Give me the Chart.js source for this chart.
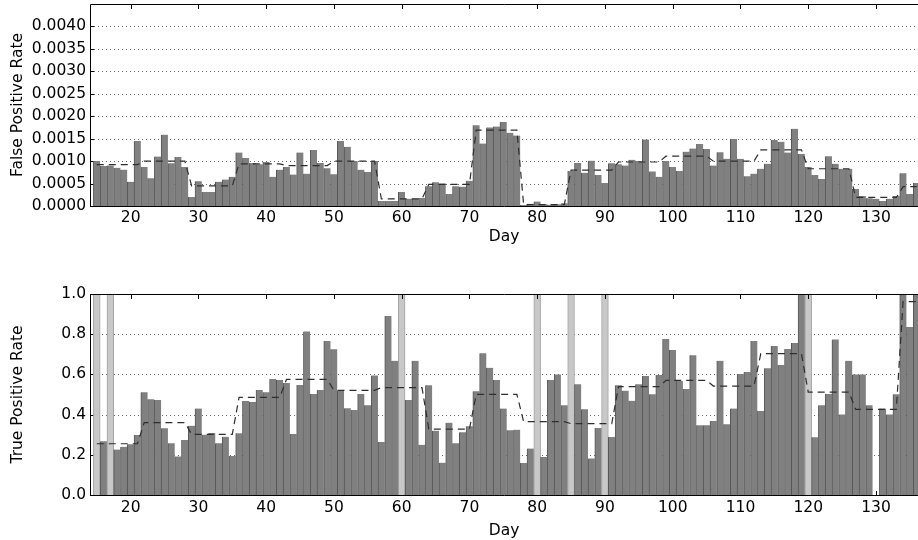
<!DOCTYPE html>
<html>
<head>
<meta charset="utf-8">
<script src="https://cdn.jsdelivr.net/npm/chart.js@4"></script>
<style>
  html, body { margin: 0; padding: 0; background: #fff; overflow: hidden; }
  #wrap { position: relative; width: 918px; height: 540px; }
  #fpr { position: absolute; left: 0; top: 0; }
  #tpr { position: absolute; left: 0; top: 260px; }
</style>
</head>
<body>
<div id="wrap">
  <canvas id="fpr" width="918" height="246"></canvas>
  <canvas id="tpr" width="918" height="280"></canvas>
</div>
<script>
// Days covered by the daily series
const firstDay = 15;
const lastDay = 136;

// Daily false positive rate, days 15..136
const fprDaily = [
  0.00100, 0.00089, 0.00090, 0.00085, 0.00081, 0.00054, 0.00145, // 15-21
  0.00087, 0.00062, 0.00110, 0.00159, 0.00095, 0.00109, 0.00087, // 22-28
  0.00020, 0.00055, 0.00031, 0.00031, 0.00054, 0.00059, 0.00065, // 29-35
  0.00119, 0.00107, 0.00096, 0.00093, 0.00098, 0.00065, 0.00081, // 36-42
  0.00087, 0.00070, 0.00119, 0.00072, 0.00125, 0.00096, 0.00084, // 43-49
  0.00071, 0.00145, 0.00132, 0.00100, 0.00081, 0.00076, 0.00100, // 50-56
  0.00011, 0.00011, 0.00011, 0.00031, 0.00016, 0.00016, 0.00018, // 57-63
  0.00044, 0.00053, 0.00050, 0.00027, 0.00044, 0.00043, 0.00056, // 64-70
  0.00180, 0.00139, 0.00175, 0.00177, 0.00187, 0.00163, 0.00157, // 71-77
  0.00002, 0.00005, 0.00010, 0.00004, 0.00003, 0.00004, 0.00006, // 78-84
  0.00078, 0.00096, 0.00074, 0.00101, 0.00069, 0.00051, 0.00095, // 85-91
  0.00093, 0.00090, 0.00103, 0.00100, 0.00148, 0.00077, 0.00065, // 92-98
  0.00100, 0.00087, 0.00078, 0.00121, 0.00128, 0.00138, 0.00127, // 99-105
  0.00090, 0.00120, 0.00105, 0.00149, 0.00105, 0.00066, 0.00072, // 106-112
  0.00083, 0.00094, 0.00147, 0.00143, 0.00119, 0.00172, 0.00116, // 113-119
  0.00087, 0.00069, 0.00060, 0.00111, 0.00094, 0.00083, 0.00083, // 120-126
  0.00038, 0.00022, 0.00017, 0.00016, 0.00011, 0.00016, 0.00022, // 127-133
  0.00073, 0.00027, 0.00051                                      // 134-136
];

// Weekly mean false positive rate (weeks start on day 15)
const fprWeekly = [
  0.00092, 0.00100, 0.00045, 0.00094, 0.00090, 0.00100,
  0.00016, 0.00048, 0.00169, 0.00003, 0.00080, 0.00098,
  0.00111, 0.00100, 0.00125, 0.00083, 0.00019, 0.00043
];

// Daily true positive rate, days 15..136 (null = no positives that day)
const tprDaily = [
  null,  0.267, null,  0.226, 0.240, 0.252, 0.299, // 15-21
  0.511, 0.476, 0.473, 0.332, 0.257, 0.192, 0.274, // 22-28
  0.345, 0.430, 0.300, 0.308, 0.257, 0.290, 0.194, // 29-35
  0.307, 0.468, 0.463, 0.522, 0.511, 0.577, 0.572, // 36-42
  0.557, 0.303, 0.547, 0.814, 0.502, 0.522, 0.766, // 43-49
  0.725, 0.519, 0.431, 0.423, 0.502, 0.446, 0.595, // 50-56
  0.264, 0.891, 0.668, null,  0.473, 0.668, 0.250, // 57-63
  0.546, 0.320, 0.161, 0.360, 0.257, 0.312, 0.342, // 64-70
  0.516, 0.705, 0.633, 0.572, 0.430, 0.322, 0.325, // 71-77
  0.159, 0.231, null,  0.189, 0.572, 0.600, 0.446, // 78-84
  null,  0.551, 0.426, 0.182, 0.333, null,  0.289, // 85-91
  0.546, 0.519, 0.469, 0.551, 0.592, 0.501, 0.597, // 92-98
  0.776, 0.721, 0.567, 0.527, 0.695, 0.347, 0.347, // 99-105
  0.368, 0.668, 0.352, 0.430, 0.602, 0.612, 0.766, // 106-112
  0.418, 0.630, 0.741, 0.647, 0.726, 0.756, 1.000, // 113-119
  null,  0.287, 0.446, 0.502, 0.774, 0.401, 0.668, // 120-126
  0.600, 0.600, 0.446, 0.000, 0.430, 0.401, 0.501, // 127-133
  1.000, 0.836, 1.000                              // 134-136
];

// Weekly mean true positive rate (weeks start on day 15)
const tprWeekly = [
  0.255, 0.360, 0.302, 0.486, 0.575, 0.521,
  0.534, 0.328, 0.501, 0.365, 0.355, 0.539,
  0.570, 0.542, 0.703, 0.512, 0.426, 0.962
];

// Days without any positives, shown as full-height light bars
const tprUndefinedDays = [15, 17, 60, 80, 85, 90, 120];

// Axis ticks
const xTickDays = [20, 30, 40, 50, 60, 70, 80, 90, 100, 110, 120, 130];
const fprTicks = [0, 0.0005, 0.0010, 0.0015, 0.0020, 0.0025, 0.0030, 0.0035, 0.0040];
const tprTicks = [0, 0.2, 0.4, 0.6, 0.8, 1.0];

Chart.defaults.font.family = "'DejaVu Sans', sans-serif";
Chart.defaults.font.size = 15.5;
Chart.defaults.color = '#000';

const days = [];
for (let d = firstDay; d <= lastDay; d++) days.push(d);

function dailyPoints(values) {
  return days.map((d, i) => ({ x: d, y: values[i] }));
}
function weeklyPoints(weekly) {
  return days.map(d => ({ x: d, y: weekly[Math.floor((d - firstDay) / 7)] }));
}

// Dotted grid, inward ticks and the axes frame
const framePlugin = {
  id: 'frame',
  beforeDatasetsDraw(chart, args, opts) {
    const { ctx, chartArea: a, scales: { x, y } } = chart;
    ctx.save();
    ctx.lineWidth = 1;
    ctx.strokeStyle = '#6a6a6a';
    ctx.setLineDash([1, 3]);
    opts.grid.forEach(v => {
      const py = Math.round(y.getPixelForValue(v)) + 0.5;
      ctx.beginPath(); ctx.moveTo(a.left, py); ctx.lineTo(a.right, py); ctx.stroke();
    });
    ctx.setLineDash([]);
    ctx.strokeStyle = '#000';
    x.ticks.forEach(t => {
      const px = Math.round(x.getPixelForValue(t.value)) + 0.5;
      ctx.beginPath(); ctx.moveTo(px, a.bottom); ctx.lineTo(px, a.bottom - 4); ctx.stroke();
    });
    y.ticks.forEach(t => {
      const py = Math.round(y.getPixelForValue(t.value)) + 0.5;
      ctx.beginPath(); ctx.moveTo(a.left, py); ctx.lineTo(a.left + 4, py); ctx.stroke();
    });
    ctx.restore();
  },
  afterDatasetsDraw(chart) {
    const { ctx, chartArea: a, scales: { x } } = chart;
    ctx.save();
    ctx.lineWidth = 1;
    ctx.strokeStyle = '#000';
    x.ticks.forEach(t => {
      const px = Math.round(x.getPixelForValue(t.value)) + 0.5;
      ctx.beginPath(); ctx.moveTo(px, a.top); ctx.lineTo(px, a.top + 5); ctx.stroke();
    });
    ctx.beginPath();
    ctx.moveTo(a.right + 1, a.top + 0.5);
    ctx.lineTo(a.left + 0.5, a.top + 0.5);
    ctx.lineTo(a.left + 0.5, a.bottom + 0.5);
    ctx.lineTo(a.right + 1, a.bottom + 0.5);
    ctx.stroke();
    ctx.restore();
  }
};

function makePanel(canvas, p) {
  return new Chart(canvas, {
    data: { datasets: p.datasets },
    options: {
      responsive: false,
      animation: false,
      layout: { padding: { top: p.padTop, left: 0, right: 0, bottom: 0 } },
      plugins: {
        legend: { display: false },
        tooltip: { enabled: false },
        frame: { grid: p.grid }
      },
      datasets: { bar: { grouped: false, categoryPercentage: 1, barPercentage: 1 } },
      scales: {
        x: {
          type: 'linear', min: 14, max: 136.2, offset: false,
          grid: { display: false, drawTicks: false, offset: false },
          border: { display: false },
          afterBuildTicks: s => { s.ticks = xTickDays.map(v => ({ value: v })); },
          afterFit: s => { s.height = p.xHeight; s.paddingLeft = 0; s.paddingRight = 0; },
          ticks: { padding: p.xTickPad, autoSkip: false, maxRotation: 0, callback: v => String(v) },
          title: { display: true, text: 'Day', padding: { top: p.xTitlePad, bottom: 0 } }
        },
        y: {
          type: 'linear', min: 0, max: p.yMax,
          grid: { display: false, drawTicks: false },
          border: { display: false },
          afterBuildTicks: s => { s.ticks = p.yTicks.map(v => ({ value: v })); },
          afterFit: s => { s.width = 90; s.paddingTop = 0; s.paddingBottom = 0; },
          ticks: { padding: 4, autoSkip: false, callback: v => v.toFixed(p.decimals) },
          title: { display: true, text: p.yTitle, padding: { top: 9, bottom: 0 } }
        }
      }
    },
    plugins: [framePlugin]
  });
}

const barStyle = {
  backgroundColor: '#808080',
  borderColor: '#565656',
  borderWidth: { left: 1, right: 0, top: 0, bottom: 0 },
  borderSkipped: false
};
const lineStyle = {
  type: 'line',
  borderColor: '#2e2e2e',
  borderWidth: 1.2,
  borderDash: [7, 5],
  pointRadius: 0,
  tension: 0,
  fill: false,
  order: 0
};

makePanel(document.getElementById('fpr'), {
  padTop: 4, xHeight: 40, xTickPad: 3, xTitlePad: 0,
  yMax: 0.0045, yTicks: fprTicks, decimals: 4,
  yTitle: 'False Positive Rate',
  grid: fprTicks.slice(1),
  datasets: [
    Object.assign({ type: 'bar', data: dailyPoints(fprDaily), order: 2 }, barStyle),
    Object.assign({ data: weeklyPoints(fprWeekly) }, lineStyle)
  ]
});

makePanel(document.getElementById('tpr'), {
  padTop: 34, xHeight: 45, xTickPad: 4, xTitlePad: 3,
  yMax: 1.0, yTicks: tprTicks, decimals: 1,
  yTitle: 'True Positive Rate',
  grid: tprTicks.slice(1, -1),
  datasets: [
    {
      type: 'bar', order: 3,
      data: tprUndefinedDays.map(d => ({ x: d, y: 1.0 })),
      backgroundColor: '#c8c8c8',
      borderColor: '#a2a2a2',
      borderWidth: { left: 1, right: 1, top: 0, bottom: 0 },
      borderSkipped: false
    },
    Object.assign({ type: 'bar', data: dailyPoints(tprDaily), order: 2 }, barStyle),
    Object.assign({ data: weeklyPoints(tprWeekly) }, lineStyle)
  ]
});
</script>
</body>
</html>
